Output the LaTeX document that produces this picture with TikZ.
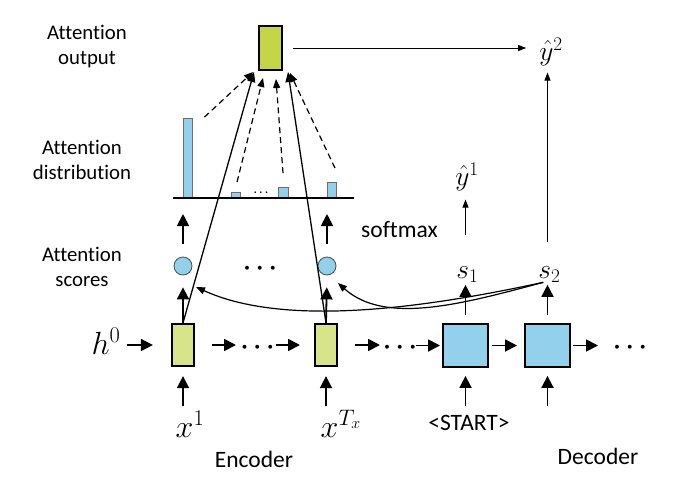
\RequirePackage{fix-cm}
\documentclass[tikz,border=0pt]{standalone}
\usepackage[no-math]{fontspec}
\setmainfont{Carlito}[Ligatures=NoCommon]
\usetikzlibrary{arrows.meta}
\definecolor{encfill}{RGB}{215,228,137}
\definecolor{attfill}{RGB}{196,214,71}
\definecolor{lblue}{RGB}{146,208,236}
\definecolor{bargray}{RGB}{110,110,110}
\newcommand{\lblfont}{\fontsize{20.8}{25.5}\selectfont}
\newcommand{\txtfont}{\fontsize{23.5}{28}\selectfont}
\newcommand{\mathLfont}{\fontsize{32}{38}\selectfont}
\newcommand{\mathSfont}{\fontsize{27.5}{32}\selectfont}
\begin{document}
\begin{tikzpicture}[x=1pt,y=-1pt,
  encbox/.style={draw, line width=1.8pt, fill=encfill, minimum width=22.5pt, minimum height=42.5pt, inner sep=0pt},
  decbox/.style={draw, line width=1.8pt, fill=lblue, minimum width=45pt, minimum height=43pt, inner sep=0pt},
  attbox/.style={draw, line width=2pt, fill=attfill, minimum width=23pt, minimum height=44pt, inner sep=0pt},
  score/.style={circle, draw=black!70, line width=0.8pt, fill=lblue, minimum size=18pt, inner sep=0pt},
  bar/.style={draw=bargray, line width=0.9pt, fill=lblue, inner sep=0pt, anchor=south},
  lbl/.style={font=\lblfont, align=center, inner sep=0pt},
  txtlbl/.style={font=\txtfont, inner sep=0pt, anchor=base},
  mathL/.style={font=\mathLfont, inner sep=0pt, anchor=base},
  mathS/.style={font=\mathSfont, inner sep=0pt, anchor=base},
  dotsL/.style={font={\fontsize{25}{30}\selectfont\boldmath}, inner sep=0pt, anchor=base},
  dotsS/.style={font={\fontsize{11}{13}\selectfont\boldmath}, inner sep=0pt, anchor=base},
  bigarr/.style={line width=1.8pt, -{Triangle[length=12pt,width=12pt]}},
  thinarr/.style={line width=1pt, -{Triangle[length=8pt,width=6pt]}},
  slarr/.style={line width=1.3pt, -{Triangle[length=10pt,width=8pt]}},
  dasharr/.style={line width=1.2pt, dash pattern=on 6pt off 4pt, -{Triangle[length=9pt,width=7pt]}},
  curvearr/.style={line width=1.2pt, -{Triangle[length=9pt,width=7pt]}}
]
\useasboundingbox (0,0) rectangle (697,479);

% left labels
\node[lbl] (lout) at (87,46.3) {Attention\\output};
\node[lbl] (ldist) at (82,159.8) {Attention\\distribution};
\node[lbl] (lscore) at (82,266.8) {Attention\\scores};

% attention output
\node[attbox] (att) at (270.5,48) {};
\node[mathS] (yhat2) at (551,60) {$\hat{y}^{2}$};

% distribution bars
\node[bar, minimum width=9pt, minimum height=79pt] (b1) at (187.5,198) {};
\node[bar, minimum width=9pt, minimum height=5pt] (b2) at (235.5,198) {};
\node[bar, minimum width=10pt, minimum height=10pt] (b3) at (283,198) {};
\node[bar, minimum width=9pt, minimum height=15pt] (b4) at (331.5,198) {};
\node[dotsS] (bdots) at (261,195) {$\cdots$};
\coordinate (bl1) at (173,198);
\coordinate (bl2) at (354,198);
\draw[line width=1.2pt] (bl1) -- (bl2);

% scores
\node[score] (c1) at (183,266) {};
\node[score] (c2) at (327,266) {};
\node[dotsL] (cdots) at (260,274) {$\cdots$};

% encoder / decoder row
\node[mathL] (h0) at (106,354) {$h^{0}$};
\node[encbox] (enc1) at (183,345) {};
\node[dotsL] (dA) at (257.5,353) {$\cdots$};
\node[encbox] (enc2) at (326,345) {};
\node[dotsL] (dB) at (400,353) {$\cdots$};
\node[decbox] (dec1) at (465.5,345.5) {};
\node[decbox] (dec2) at (547.5,345.5) {};
\node[dotsL] (dC) at (630,353) {$\cdots$};

% inputs
\node[mathL] (x1) at (190,437) {$x^{1}$};
\node[mathL] (xT) at (341,437) {$x^{T_x}$};
\node[txtlbl] (start) at (469,430) {<START>};
\coordinate (dec2in) at (547.5,406);
\node[txtlbl] (encl) at (254,467) {Encoder};
\node[txtlbl] (decl) at (598,464) {Decoder};

% decoder outputs
\node[mathS] (s1) at (467.5,278) {$s_{1}$};
\node[mathS] (s2) at (549.5,278) {$s_{2}$};
\node[mathS] (yhat1) at (467,185) {$\hat{y}^{1}$};
\node[txtlbl] (softmax) at (399.5,237) {softmax};

% horizontal chain
\draw[bigarr, shorten <=6pt, shorten >=18pt] (h0.east |- enc1.west) -- (enc1.west);
\draw[bigarr, shorten <=29pt, shorten >=21.5pt] (enc1.center) -- (enc1.center -| dA.center);
\draw[bigarr, shorten <=18.5pt, shorten >=26pt] (enc2.center -| dA.center) -- (enc2.center);
\draw[bigarr, shorten <=29pt, shorten >=20pt] (enc2.center) -- (enc2.center -| dB.center);
\draw[bigarr, shorten <=16pt, shorten >=25.5pt] (dec1.center -| dB.center) -- (dec1.center);
\draw[bigarr, shorten <=26.5pt, shorten >=30.5pt] (dec1.center) -- (dec2.center);
\draw[bigarr, shorten <=25.5pt, shorten >=32pt] (dec2.center) -- (dec2.center -| dC.center);

% inputs up
\draw[bigarr, shorten <=4.5pt, shorten >=9pt] (x1.north -| enc1.south) -- (enc1.south);
\draw[bigarr, shorten <=3.5pt, shorten >=9pt] (xT.north -| enc2.south) -- (enc2.south);
\draw[bigarr, shorten <=9pt, shorten >=8pt] (start.north -| dec1.south) -- (dec1.south);
\draw[bigarr, shorten >=8pt] (dec2in) -- (dec2.south);

% encoder to scores, scores to distribution
\draw[bigarr, shorten >=12pt] (enc1.north) -- (c1.south);
\draw[bigarr, shorten >=12pt] (enc2.north) -- (c2.south);
\draw[bigarr, shorten <=13pt, shorten >=16pt] (c1.north) -- (c1.north |- bl1);
\draw[bigarr, shorten <=13pt, shorten >=16pt] (c2.north) -- (c2.north |- bl1);

% decoder to states
\draw[bigarr, shorten <=8pt, shorten >=2.5pt] (dec1.north) -- (dec1.north |- s1.south);
\draw[bigarr, shorten <=8pt, shorten >=2.5pt] (dec2.north) -- (dec2.north |- s2.south);
\draw[thinarr, shorten <=31pt, shorten >=9pt] (dec1.north |- s1.north) -- (dec1.north |- yhat1.south);
\draw[thinarr, shorten <=24pt, shorten >=7pt] (dec2.north |- s2.north) -- (dec2.north |- yhat2.south);

% attention output to yhat2
\draw[thinarr, shorten <=10pt, shorten >=13pt] (att.east) -- (att.east -| yhat2.west);

% encoder states to attention output
\draw[slarr] (enc1.north) -- ([xshift=-4pt,yshift=-1pt]att.south west);
\draw[slarr] (enc2.north) -- ([xshift=5pt,yshift=-1pt]att.south east);

% dashed weights
\draw[dasharr] ([xshift=12pt,yshift=1pt]b1.north east) -- ([xshift=-5pt,yshift=-1pt]att.south west);
\draw[dasharr] ([xshift=1.5pt,yshift=10pt]b2.north) -- ([xshift=-7.5pt,yshift=-7pt]att.south);
\draw[dasharr] ([yshift=14pt]b3.north) -- ([xshift=5.5pt,yshift=-8pt]att.south);
\draw[dasharr] ([xshift=3.5pt,yshift=14pt]b4.north) -- ([xshift=7pt,yshift=-2pt]att.south east);

% curved query arrows
\draw[curvearr] ([xshift=5pt]s2.south west) .. controls +(-102,22) and +(94,43) .. ([xshift=13pt,yshift=-21pt]c1.center);
\draw[curvearr] ([xshift=5pt]s2.south west) .. controls +(-82,22) and +(47,42) .. ([xshift=11pt,yshift=-17pt]c2.center);

\end{tikzpicture}
\end{document}
